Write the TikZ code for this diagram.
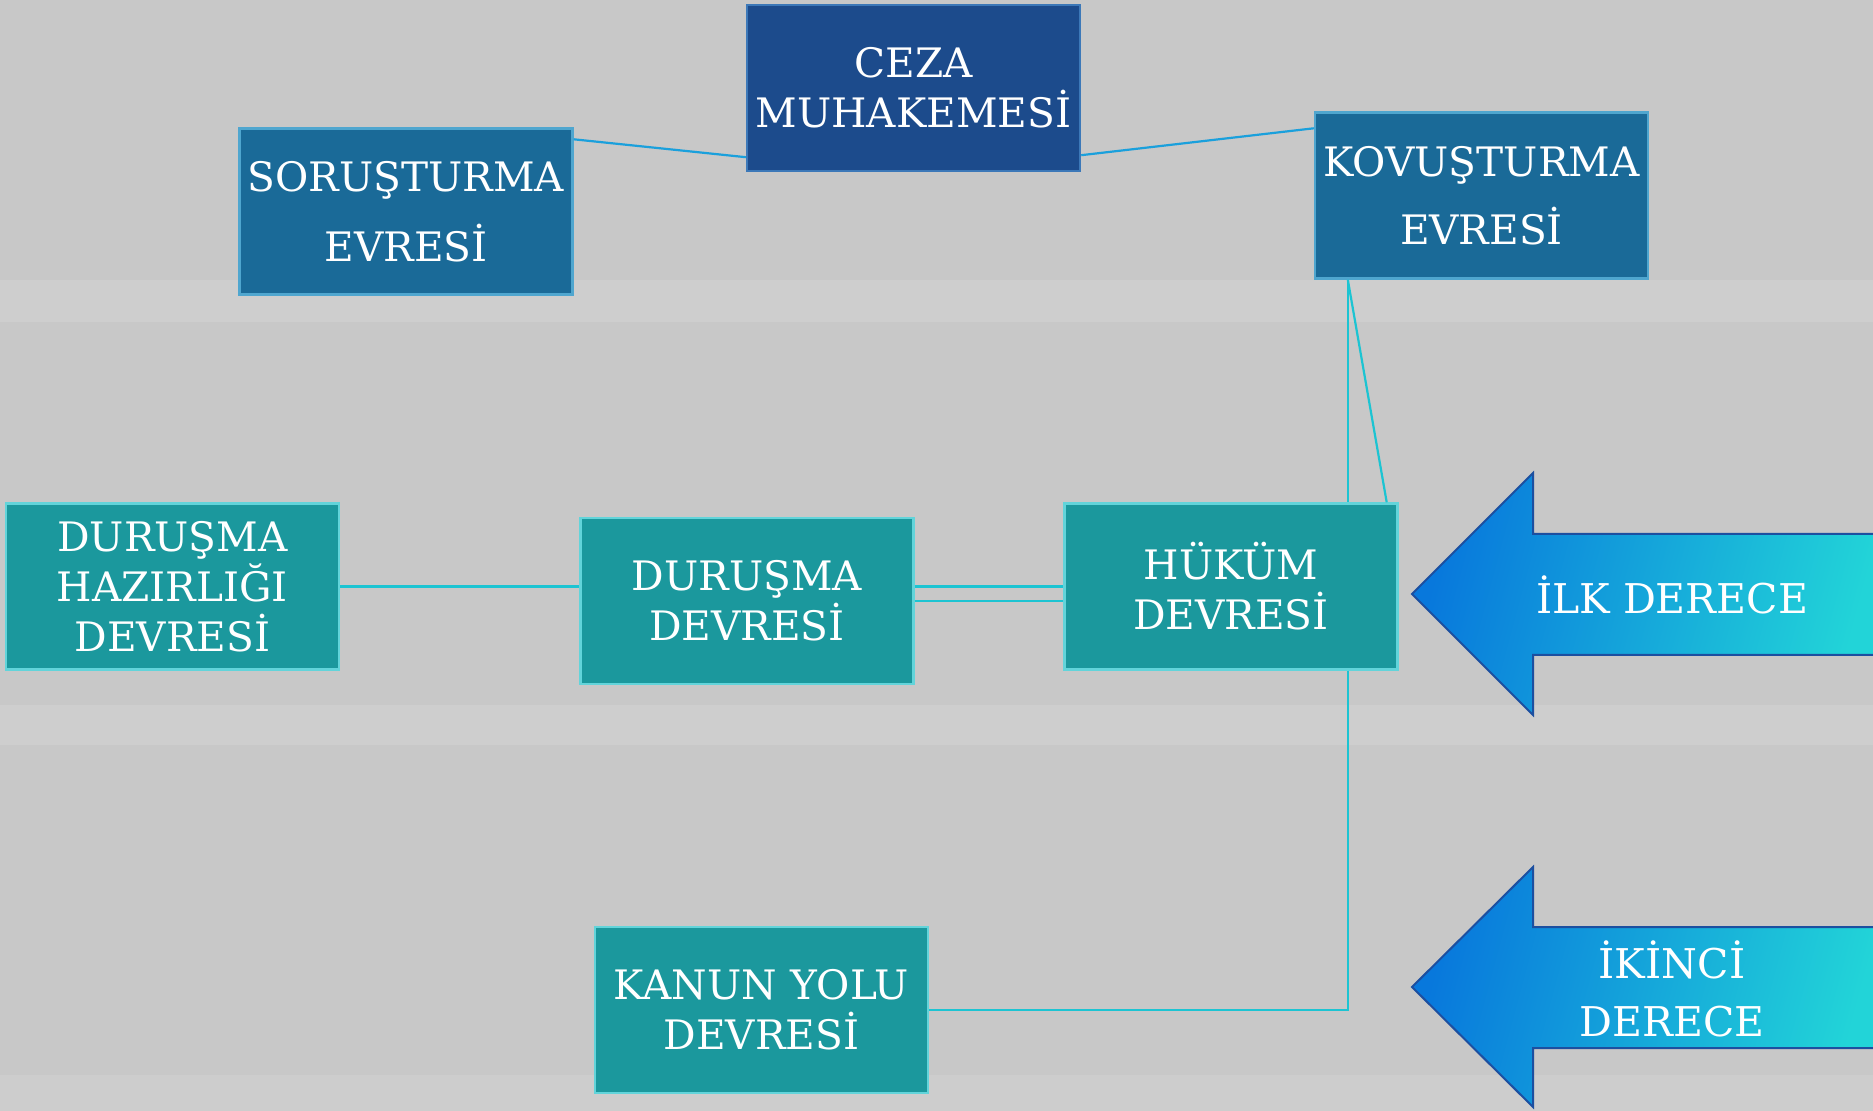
\documentclass[tikz,border=0pt]{standalone}
\usepackage{fontspec}
\setmainfont{DejaVu Serif}
\usetikzlibrary{calc}
\definecolor{bgc}{HTML}{C8C8C8}
\definecolor{tealbox}{HTML}{1B989D}
\definecolor{tealedge}{HTML}{62D4DA}
\definecolor{steelbox}{HTML}{1A6A98}
\definecolor{steeledge}{HTML}{4FA6CF}
\definecolor{darkbox}{HTML}{1C4B8C}
\definecolor{darkedge}{HTML}{3C78B8}
\definecolor{linkblue}{HTML}{1AA0DC}
\definecolor{linkcyan}{HTML}{1CC4D2}
\definecolor{arrowL}{HTML}{0878DC}
\definecolor{arrowR}{HTML}{22D4D8}
\definecolor{arrowedge}{HTML}{1C4FA0}
\begin{document}
\begin{tikzpicture}[x=0.5pt,y=-0.5pt,
  stage/.style={rectangle, minimum width=166.5pt, minimum height=83pt, inner sep=0pt,
    text=white, font=\fontsize{20.3}{25}\selectfont, align=center, line width=1.2pt},
  tealstage/.style={stage, fill=tealbox, draw=tealedge},
  steelstage/.style={stage, fill=steelbox, draw=steeledge},
  darkstage/.style={stage, fill=darkbox, draw=darkedge},
  bluelink/.style={draw=linkblue, line width=1.1pt},
  cyanlink/.style={draw=linkcyan, line width=1.1pt},
  bigarrow/.style={draw=arrowedge, line width=1pt, left color=arrowL, right color=arrowR, shading angle=75},
  arrowtext/.style={text=white, font=\fontsize{20.5}{25}\selectfont, align=center, inner sep=0pt}]
% background
\fill[bgc] (0,0) rectangle (1873,1111);
\useasboundingbox (0,0) rectangle (1873,1111);
\fill[white, opacity=0.12] (0,280) rectangle (1873,322);
\fill[white, opacity=0.12] (0,705) rectangle (1873,745);
\fill[white, opacity=0.10] (0,1075) rectangle (1873,1111);
% upper boxes
\node[darkstage] (ceza) at (913.5,88) {CEZA\\MUHAKEMESİ};
\node[steelstage] (sor) at (406,211.5) {SORUŞTURMA\\[10pt]EVRESİ};
\node[steelstage] (kov) at (1481.5,195.5) {KOVUŞTURMA\\[9pt]EVRESİ};
\coordinate (vx) at ([xshift=17pt]kov.south west);
% connectors (behind the lower boxes)
\draw[bluelink] ([yshift=-6pt]sor.north east) -- ([yshift=7.5pt]ceza.south west);
\draw[bluelink] ([yshift=8.5pt]ceza.south east) -- ([yshift=-8.5pt]kov.north west);
\node[tealstage] (hukum) at (1231,586.5) {HÜKÜM\\DEVRESİ};
\node[tealstage] (dhaz) at (172.5,586.5) {DURUŞMA\\HAZIRLIĞI\\DEVRESİ};
\node[tealstage] (dur) at (747,601) {DURUŞMA\\DEVRESİ};
\node[tealstage] (kanun) at (761.5,1010) {KANUN YOLU\\DEVRESİ};
\draw[cyanlink] (vx) -- (vx |- hukum.north);
\draw[cyanlink] (vx) -- ([xshift=-6pt]hukum.north east);
\draw[cyanlink] (vx |- hukum.south) |- (kanun.east);
\draw[cyanlink] (dhaz.east) -- (dhaz.east -| dur.west);
\draw[cyanlink] (dur.east |- hukum.west) -- (hukum.west);
\draw[cyanlink] (dur.east) -- (dur.east -| hukum.west);
% arrows
\draw[bigarrow] (1412,594) -- (1533,473) -- (1533,534) -- (1880,534) -- (1880,655) -- (1533,655) -- (1533,715) -- cycle;
\node[arrowtext] (ilk) at (1672,595) {İLK DERECE};
\draw[bigarrow] (1412,987) -- (1533,867) -- (1533,927) -- (1880,927) -- (1880,1048) -- (1533,1048) -- (1533,1107) -- cycle;
\node[arrowtext] (ikinci) at (1672,989) {İKİNCİ\\[4pt]DERECE};
\end{tikzpicture}
\end{document}
